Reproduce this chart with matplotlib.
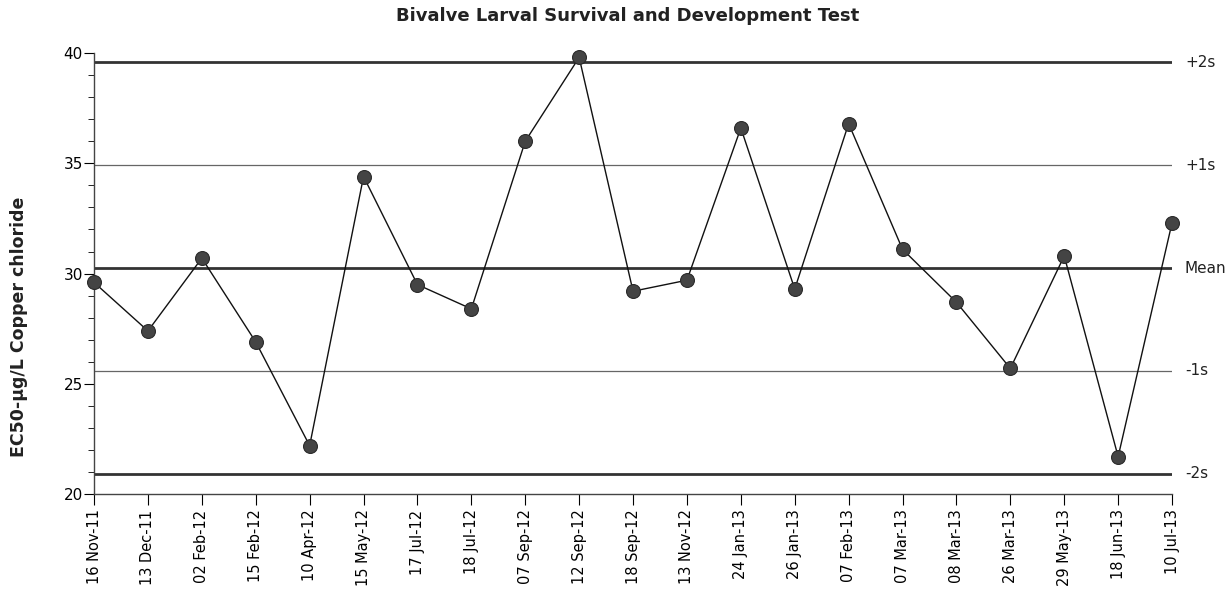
import matplotlib
matplotlib.use("Agg")
import matplotlib.pyplot as plt
from matplotlib.ticker import MultipleLocator

# Test dates and EC50 results
test_dates = [
    "16 Nov-11", "13 Dec-11", "02 Feb-12", "15 Feb-12", "10 Apr-12",
    "15 May-12", "17 Jul-12", "18 Jul-12", "07 Sep-12", "12 Sep-12",
    "18 Sep-12", "13 Nov-12", "24 Jan-13", "26 Jan-13", "07 Feb-13",
    "07 Mar-13", "08 Mar-13", "26 Mar-13", "29 May-13", "18 Jun-13",
    "10 Jul-13",
]
ec50 = [
    29.6, 27.4, 30.7, 26.9, 22.2,
    34.4, 29.5, 28.4, 36.0, 39.8,
    29.2, 29.7, 36.6, 29.3, 36.8,
    31.1, 28.7, 25.7, 30.8, 21.7,
    32.3,
]

# Control chart limits
mean_ec50 = 30.25
sd_ec50 = 4.66
limit_labels = ["+2s", "+1s", "Mean", "-1s", "-2s"]
limit_factors = [2, 1, 0, -1, -2]

fig = plt.figure(figsize=(12.31, 5.89), dpi=100)
ax = fig.add_axes([0.0764, 0.161, 0.8757, 0.749])

x = list(range(len(test_dates)))

for lab, k in zip(limit_labels, limit_factors):
    yv = mean_ec50 + k * sd_ec50
    if k in (2, 0, -2):
        ax.axhline(yv, color="#333333", lw=2.0, zorder=1)
    else:
        ax.axhline(yv, color="#666666", lw=0.9, zorder=1)
    ax.text(1.012, yv, lab, transform=ax.get_yaxis_transform(),
            ha="left", va="center", fontsize=11, color="#222222")

ax.plot(x, ec50, color="#111111", lw=1.0, marker="o", markersize=10,
        markerfacecolor="#444444", markeredgecolor="#2a2a2a",
        markeredgewidth=0.8, zorder=3, clip_on=False)

ax.set_xlim(0, len(test_dates) - 1)
ax.set_ylim(20, 40)
ax.set_xticks(x)
ax.set_xticklabels(test_dates, rotation=90, fontsize=10.5)
ax.yaxis.set_major_locator(MultipleLocator(5))
ax.yaxis.set_minor_locator(MultipleLocator(1))
ax.tick_params(axis="y", which="major", length=7, labelsize=11, pad=1)
ax.tick_params(axis="y", which="minor", length=4)
ax.tick_params(axis="x", length=8, pad=3)

for side in ("top", "right"):
    ax.spines[side].set_visible(False)
for side in ("left", "bottom"):
    ax.spines[side].set_color("#444444")
    ax.spines[side].set_linewidth(1.0)

fig.text(0.0155, 0.445, "EC50-µg/L Copper chloride", rotation=90,
         ha="center", va="center", fontsize=12.5, fontweight="bold",
         color="#222222")
fig.text(0.51, 0.972, "Bivalve Larval Survival and Development Test",
         ha="center", va="center", fontsize=13, fontweight="bold",
         color="#222222")

fig.savefig("out.png", dpi=100)
